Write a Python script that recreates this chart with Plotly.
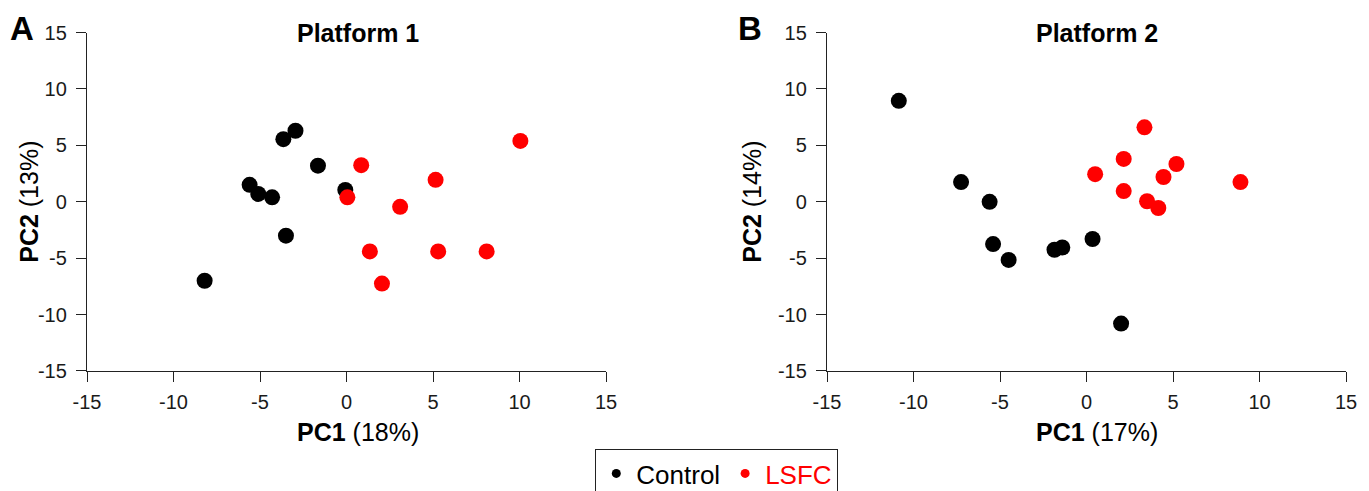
import plotly.graph_objects as go

# Platform 1
p1_ctrl_x = [-8.2, -5.6, -5.1, -4.3, -3.65, -2.95, -3.5, -1.65, -0.07]
p1_ctrl_y = [-7.0, 1.5, 0.7, 0.4, 5.55, 6.3, -3.0, 3.2, 1.05]
p1_lsfc_x = [0.05, 0.85, 3.1, 5.15, 1.35, 2.05, 5.3, 8.1, 10.05]
p1_lsfc_y = [0.4, 3.25, -0.45, 1.95, -4.4, -7.25, -4.4, -4.4, 5.4]

# Platform 2
p2_ctrl_x = [-10.85, -7.25, -5.6, -5.4, -4.5, -1.85, -1.4, 0.35, 2.0]
p2_ctrl_y = [8.95, 1.75, 0.0, -3.75, -5.15, -4.25, -4.05, -3.3, -10.8]
p2_lsfc_x = [0.5, 2.15, 2.15, 3.35, 3.5, 4.15, 4.45, 5.2, 8.9]
p2_lsfc_y = [2.45, 3.8, 0.95, 6.6, 0.05, -0.55, 2.2, 3.35, 1.75]

ticks = [-15, -10, -5, 0, 5, 10, 15]
titles = ["Platform 1", "Platform 2"]
letters = ["A", "B"]
pc1_pct = ["18%", "17%"]
pc2_pct = ["13%", "14%"]

FONT = "Liberation Sans, Arial, sans-serif"
W, H = 1369, 491
OFF = 8  # page body margin


def px(x):
    return (x - OFF) / W


def py(y):
    return 1 - (y - OFF) / H


fig = go.Figure()

panels = [
    (p1_ctrl_x, p1_ctrl_y, p1_lsfc_x, p1_lsfc_y),
    (p2_ctrl_x, p2_ctrl_y, p2_lsfc_x, p2_lsfc_y),
]
xdoms = [[px(87), px(606)], [px(827), px(1346)]]
ydom = [py(377), py(33)]

for i, (cx, cy, lx, ly) in enumerate(panels):
    xa = "x" if i == 0 else "x2"
    ya = "y" if i == 0 else "y2"
    fig.add_trace(go.Scatter(x=cx, y=cy, mode="markers", xaxis=xa, yaxis=ya,
                             marker=dict(color="black", size=16), showlegend=False))
    fig.add_trace(go.Scatter(x=lx, y=ly, mode="markers", xaxis=xa, yaxis=ya,
                             marker=dict(color="#ff0000", size=16), showlegend=False))

# legend-only traces
fig.add_trace(go.Scatter(x=[None], y=[None], mode="markers", name="Control",
                         marker=dict(color="black", size=9)))
fig.add_trace(go.Scatter(x=[None], y=[None], mode="markers",
                         name="<span style='color:#ff0000'>LSFC</span>",
                         marker=dict(color="#ff0000", size=9)))

axis_common = dict(range=[-15, 15], tickvals=ticks, ticktext=[str(t) for t in ticks],
                   showline=True, linecolor="#222", linewidth=1.4, ticks="outside",
                   ticklen=10, tickwidth=1.3, tickcolor="#222", showgrid=False, zeroline=False,
                   tickfont=dict(family=FONT, size=20, color="#1a1a1a"), automargin=False)

layout = dict(
    width=W, height=H, template="none",
    paper_bgcolor="white", plot_bgcolor="white",
    margin=dict(l=0, r=0, t=0, b=0),
    font=dict(family=FONT, color="black"),
    showlegend=True,
    legend=dict(orientation="h", x=px(716.5), xanchor="center", y=py(456), yanchor="top",
                bordercolor="#222", borderwidth=1.3, bgcolor="white",
                font=dict(family=FONT, size=26, color="black"),
                itemwidth=30, tracegroupgap=0),
)
for i in range(2):
    sx = "" if i == 0 else "2"
    layout["xaxis" + sx] = dict(axis_common, domain=xdoms[i], anchor="y" + sx,
                                ticklabelstandoff=3)
    layout["yaxis" + sx] = dict(axis_common, domain=ydom, anchor="x" + sx,
                                ticklabelstandoff=5)
fig.update_layout(**layout)

annots = []
centers = [358, 1097]
ytitle_x = [29, 752]
letter_x = [22, 750]
for i in range(2):
    annots.append(dict(text="<b>" + titles[i] + "</b>", x=px(centers[i]), y=py(33),
                       xref="paper", yref="paper", showarrow=False,
                       font=dict(family=FONT, size=25, color="black"),
                       xanchor="center", yanchor="middle"))
    annots.append(dict(text="<b>" + letters[i] + "</b>", x=px(letter_x[i]), y=1.0,
                       xref="paper", yref="paper", showarrow=False,
                       font=dict(family=FONT, size=33, color="black"),
                       xanchor="center", yanchor="top"))
    annots.append(dict(text="<b>PC1</b> (" + pc1_pct[i] + ")", x=px(centers[i]), y=py(439),
                       xref="paper", yref="paper", showarrow=False,
                       font=dict(family=FONT, size=25, color="black"),
                       xanchor="center", yanchor="middle"))
    annots.append(dict(text="<b>PC2</b> (" + pc2_pct[i] + ")", x=px(ytitle_x[i]), y=py(205),
                       xref="paper", yref="paper", showarrow=False, textangle=-90,
                       font=dict(family=FONT, size=25, color="black"),
                       xanchor="center", yanchor="middle"))
fig.update_layout(annotations=annots)

fig.write_html("out.html")
